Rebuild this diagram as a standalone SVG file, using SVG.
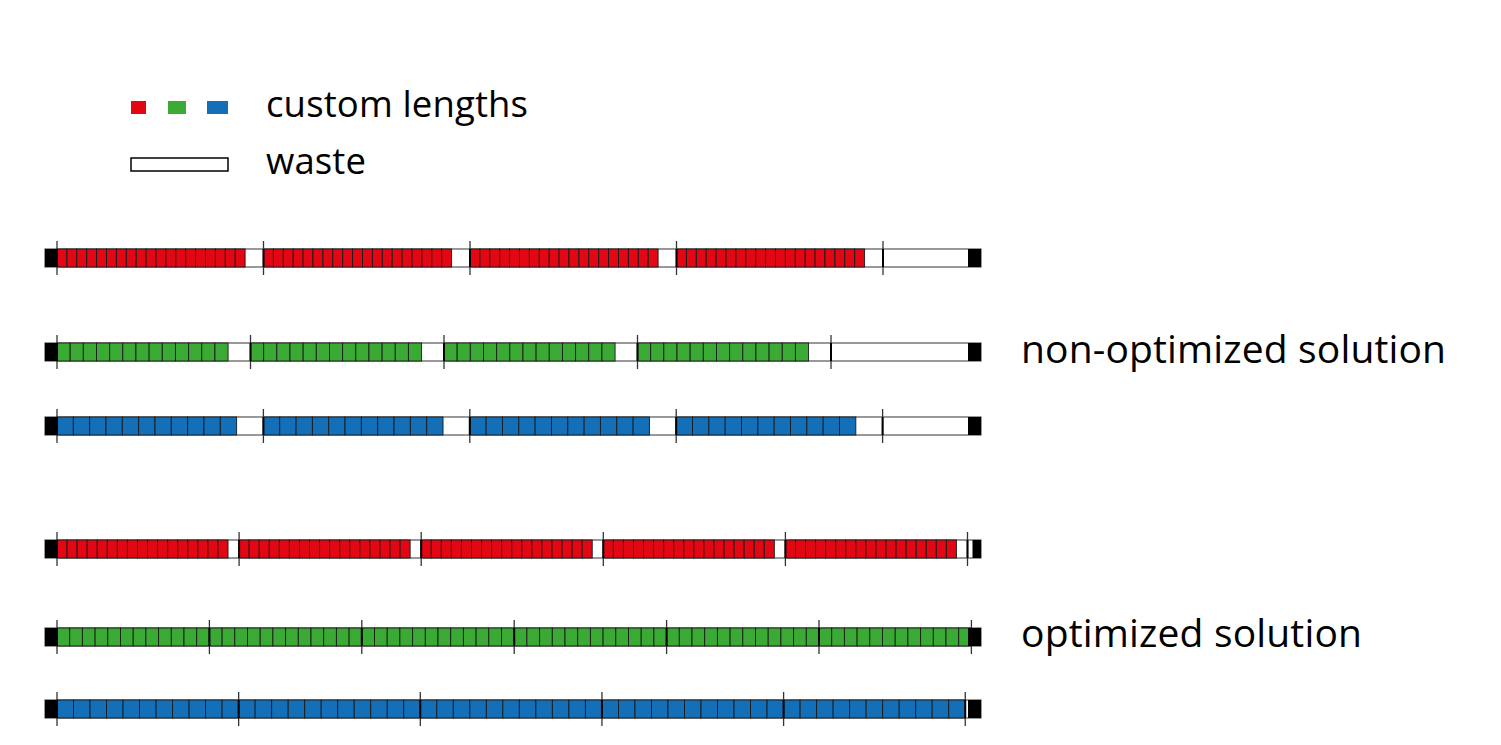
<svg xmlns="http://www.w3.org/2000/svg" width="1501" height="745" viewBox="0 0 1501 745">
<style>
  .txt{font-family:"Open Sans","Liberation Sans",sans-serif;fill:#000}
  .bar{fill:#fff;stroke:#555;stroke-width:1.2}
  .cap{fill:#000}
  .r{fill:#e30613}
  .g{fill:#3aaa35}
  .b{fill:#126fb8}
  .cell rect{stroke:#1a1a1a;stroke-width:0.9}
  .tick{stroke:#333;stroke-width:1.3}
  .seg{stroke:#000;stroke-width:2}
</style>
<defs>
  <g id="segR19" class="cell r">
    <rect x="0" y="0" width="9.9" height="18"/><rect x="9.9" y="0" width="9.9" height="18"/><rect x="19.8" y="0" width="9.9" height="18"/><rect x="29.7" y="0" width="9.9" height="18"/><rect x="39.6" y="0" width="9.9" height="18"/><rect x="49.5" y="0" width="9.9" height="18"/><rect x="59.4" y="0" width="9.9" height="18"/><rect x="69.3" y="0" width="9.9" height="18"/><rect x="79.2" y="0" width="9.9" height="18"/><rect x="89.1" y="0" width="9.9" height="18"/><rect x="99" y="0" width="9.9" height="18"/><rect x="108.9" y="0" width="9.9" height="18"/><rect x="118.8" y="0" width="9.9" height="18"/><rect x="128.7" y="0" width="9.9" height="18"/><rect x="138.6" y="0" width="9.9" height="18"/><rect x="148.5" y="0" width="9.9" height="18"/><rect x="158.4" y="0" width="9.9" height="18"/><rect x="168.3" y="0" width="9.9" height="18"/><rect x="178.2" y="0" width="9.9" height="18"/>
  </g>
  <g id="segG13" class="cell g">
    <rect x="0" y="0" width="13.16" height="18"/><rect x="13.16" y="0" width="13.16" height="18"/><rect x="26.32" y="0" width="13.16" height="18"/><rect x="39.48" y="0" width="13.16" height="18"/><rect x="52.64" y="0" width="13.16" height="18"/><rect x="65.8" y="0" width="13.16" height="18"/><rect x="78.96" y="0" width="13.16" height="18"/><rect x="92.12" y="0" width="13.16" height="18"/><rect x="105.28" y="0" width="13.16" height="18"/><rect x="118.44" y="0" width="13.16" height="18"/><rect x="131.6" y="0" width="13.16" height="18"/><rect x="144.76" y="0" width="13.16" height="18"/><rect x="157.92" y="0" width="13.16" height="18"/>
  </g>
  <g id="segB11" class="cell b">
    <rect x="0" y="0" width="16.33" height="18"/><rect x="16.33" y="0" width="16.33" height="18"/><rect x="32.66" y="0" width="16.33" height="18"/><rect x="48.99" y="0" width="16.33" height="18"/><rect x="65.32" y="0" width="16.33" height="18"/><rect x="81.65" y="0" width="16.33" height="18"/><rect x="97.98" y="0" width="16.33" height="18"/><rect x="114.31" y="0" width="16.33" height="18"/><rect x="130.64" y="0" width="16.33" height="18"/><rect x="146.97" y="0" width="16.33" height="18"/><rect x="163.3" y="0" width="16.33" height="18"/>
  </g>
  <g id="segR17" class="cell r">
    <rect x="0" y="0" width="10.06" height="18"/><rect x="10.06" y="0" width="10.06" height="18"/><rect x="20.12" y="0" width="10.06" height="18"/><rect x="30.18" y="0" width="10.06" height="18"/><rect x="40.24" y="0" width="10.06" height="18"/><rect x="50.3" y="0" width="10.06" height="18"/><rect x="60.36" y="0" width="10.06" height="18"/><rect x="70.42" y="0" width="10.06" height="18"/><rect x="80.48" y="0" width="10.06" height="18"/><rect x="90.54" y="0" width="10.06" height="18"/><rect x="100.6" y="0" width="10.06" height="18"/><rect x="110.66" y="0" width="10.06" height="18"/><rect x="120.72" y="0" width="10.06" height="18"/><rect x="130.78" y="0" width="10.06" height="18"/><rect x="140.84" y="0" width="10.06" height="18"/><rect x="150.9" y="0" width="10.06" height="18"/><rect x="160.96" y="0" width="10.06" height="18"/>
  </g>
  <g id="segG12" class="cell g">
    <rect x="0" y="0" width="12.7" height="18"/><rect x="12.7" y="0" width="12.7" height="18"/><rect x="25.4" y="0" width="12.7" height="18"/><rect x="38.1" y="0" width="12.7" height="18"/><rect x="50.8" y="0" width="12.7" height="18"/><rect x="63.5" y="0" width="12.7" height="18"/><rect x="76.2" y="0" width="12.7" height="18"/><rect x="88.9" y="0" width="12.7" height="18"/><rect x="101.6" y="0" width="12.7" height="18"/><rect x="114.3" y="0" width="12.7" height="18"/><rect x="127" y="0" width="12.7" height="18"/><rect x="139.7" y="0" width="12.7" height="18"/>
  </g>
  <g id="segB11o" class="cell b">
    <rect x="0" y="0" width="16.51" height="18"/><rect x="16.51" y="0" width="16.51" height="18"/><rect x="33.02" y="0" width="16.51" height="18"/><rect x="49.53" y="0" width="16.51" height="18"/><rect x="66.04" y="0" width="16.51" height="18"/><rect x="82.55" y="0" width="16.51" height="18"/><rect x="99.06" y="0" width="16.51" height="18"/><rect x="115.57" y="0" width="16.51" height="18"/><rect x="132.08" y="0" width="16.51" height="18"/><rect x="148.59" y="0" width="16.51" height="18"/><rect x="165.1" y="0" width="16.51" height="18"/>
  </g>
  <g id="tk">
    <line class="tick" x1="0" y1="-8" x2="0" y2="26"/>
    <line class="seg" x1="0" y1="0" x2="0" y2="18"/>
  </g>
</defs>

<rect width="1501" height="745" fill="#fff"/>

<g id="legend">
  <rect class="r" x="131" y="101" width="15" height="13"/>
  <rect class="g" x="168" y="101" width="18" height="13"/>
  <rect class="b" x="207" y="101" width="21" height="13"/>
  <rect x="131" y="158" width="97" height="13" fill="#fff" stroke="#000" stroke-width="1.5"/>
  <text class="txt" x="266" y="117" font-size="36.5" textLength="262">custom lengths</text>
  <text class="txt" x="266" y="174" font-size="36.5" textLength="100">waste</text>
</g>

<g id="bar-nonopt-red" transform="translate(0,249)">
  <rect class="bar" x="45" y="0" width="936" height="18"/>
  <use href="#segR19" x="57"/><use href="#segR19" x="263.5"/><use href="#segR19" x="470"/><use href="#segR19" x="676.5"/>
  <use href="#tk" x="57"/><use href="#tk" x="263.5"/><use href="#tk" x="470"/><use href="#tk" x="676.5"/><use href="#tk" x="883"/>
  <rect class="cap" x="45" y="0" width="12" height="18"/>
  <rect class="cap" x="968" y="0" width="13" height="18"/>
</g>

<g id="bar-nonopt-green" transform="translate(0,343)">
  <rect class="bar" x="45" y="0" width="936" height="18"/>
  <use href="#segG13" x="57"/><use href="#segG13" x="250.5"/><use href="#segG13" x="444"/><use href="#segG13" x="637.5"/>
  <use href="#tk" x="57"/><use href="#tk" x="250.5"/><use href="#tk" x="444"/><use href="#tk" x="637.5"/><use href="#tk" x="831"/>
  <rect class="cap" x="45" y="0" width="12" height="18"/>
  <rect class="cap" x="968" y="0" width="13" height="18"/>
</g>

<g id="bar-nonopt-blue" transform="translate(0,417)">
  <rect class="bar" x="45" y="0" width="936" height="18"/>
  <use href="#segB11" x="57"/><use href="#segB11" x="263.4"/><use href="#segB11" x="469.8"/><use href="#segB11" x="676.2"/>
  <use href="#tk" x="57"/><use href="#tk" x="263.4"/><use href="#tk" x="469.8"/><use href="#tk" x="676.2"/><use href="#tk" x="882.6"/>
  <rect class="cap" x="45" y="0" width="12" height="18"/>
  <rect class="cap" x="968" y="0" width="13" height="18"/>
</g>

<g id="bar-opt-red" transform="translate(0,540)">
  <rect class="bar" x="45" y="0" width="936" height="18"/>
  <use href="#segR17" x="57"/><use href="#segR17" x="239.1"/><use href="#segR17" x="421.2"/><use href="#segR17" x="603.3"/><use href="#segR17" x="785.4"/>
  <use href="#tk" x="57"/><use href="#tk" x="239.1"/><use href="#tk" x="421.2"/><use href="#tk" x="603.3"/><use href="#tk" x="785.4"/><use href="#tk" x="967.5"/>
  <rect class="cap" x="45" y="0" width="12" height="18"/>
  <rect class="cap" x="972.5" y="0" width="8.5" height="18"/>
</g>

<g id="bar-opt-green" transform="translate(0,628)">
  <rect class="bar" x="45" y="0" width="936" height="18"/>
  <use href="#segG12" x="57"/><use href="#segG12" x="209.4"/><use href="#segG12" x="361.8"/><use href="#segG12" x="514.2"/><use href="#segG12" x="666.6"/><use href="#segG12" x="819"/>
  <rect class="cap" x="45" y="0" width="12" height="18"/>
  <rect class="cap" x="968" y="0" width="13" height="18"/>
  <use href="#tk" x="57"/><use href="#tk" x="209.4"/><use href="#tk" x="361.8"/><use href="#tk" x="514.2"/><use href="#tk" x="666.6"/><use href="#tk" x="819"/><use href="#tk" x="971.4"/>
</g>

<g id="bar-opt-blue" transform="translate(0,700)">
  <rect class="bar" x="45" y="0" width="936" height="18"/>
  <use href="#segB11o" x="57"/><use href="#segB11o" x="238.65"/><use href="#segB11o" x="420.3"/><use href="#segB11o" x="601.95"/><use href="#segB11o" x="783.6"/>
  <use href="#tk" x="57"/><use href="#tk" x="238.65"/><use href="#tk" x="420.3"/><use href="#tk" x="601.95"/><use href="#tk" x="783.6"/><use href="#tk" x="965.25"/>
  <rect class="cap" x="45" y="0" width="12" height="18"/>
  <rect class="cap" x="968" y="0" width="13" height="18"/>
</g>

<g id="labels">
  <text class="txt" x="1021" y="363" font-size="39" textLength="425">non-optimized solution</text>
  <text class="txt" x="1021" y="647" font-size="39" textLength="341">optimized solution</text>
</g>
<g id="connectors"/>
</svg>
